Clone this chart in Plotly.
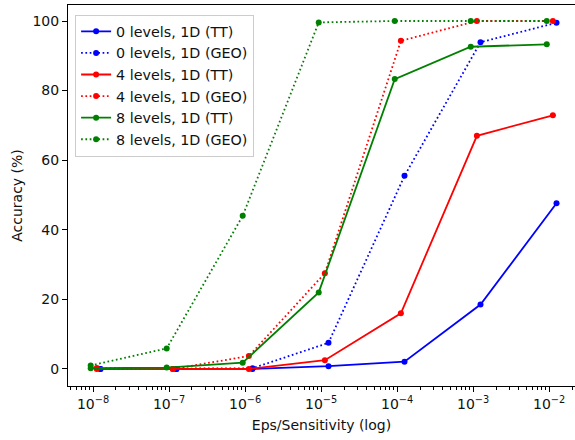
import plotly.graph_objects as go

# Privacy budget (epsilon / sensitivity) grid and per-configuration offsets
eps = [1e-8, 1e-7, 1e-6, 1e-5, 1e-4, 1e-3, 1e-2]
x_scale = {"0": 1.25, "4": 1.12, "8": 0.93}

# Accuracy (%) for each configuration
acc_0_tt = [0.0, 0.0, 0.0, 0.8, 2.1, 18.5, 47.6]
acc_0_geo = [0.0, 0.0, 0.2, 7.5, 55.5, 93.9, 99.5]
acc_4_tt = [0.0, 0.0, 0.0, 2.5, 16.0, 67.0, 72.9]
acc_4_geo = [0.3, 0.0, 3.7, 27.5, 94.3, 100.0, 100.0]
acc_8_tt = [0.2, 0.4, 1.8, 22.0, 83.3, 92.6, 93.3]
acc_8_geo = [1.0, 5.9, 44.0, 99.6, 100.0, 100.0, 100.0]

tick_vals = [1e-8, 1e-7, 1e-6, 1e-5, 1e-4, 1e-3, 1e-2]
tick_text = ["10<sup>\u22128</sup>", "10<sup>\u22127</sup>", "10<sup>\u22126</sup>",
             "10<sup>\u22125</sup>", "10<sup>\u22124</sup>", "10<sup>\u22123</sup>",
             "10<sup>\u22122</sup>"]
minor_vals = [m * 10.0 ** e for e in range(-9, -1) for m in range(2, 10)]

DOTTED = "1.7px,2.6px"
series = [
    ("0 levels, 1D (TT)", "0", acc_0_tt, "#0000ff", "solid"),
    ("0 levels, 1D (GEO)", "0", acc_0_geo, "#0000ff", DOTTED),
    ("4 levels, 1D (TT)", "4", acc_4_tt, "#ff0000", "solid"),
    ("4 levels, 1D (GEO)", "4", acc_4_geo, "#ff0000", DOTTED),
    ("8 levels, 1D (TT)", "8", acc_8_tt, "#008000", "solid"),
    ("8 levels, 1D (GEO)", "8", acc_8_geo, "#008000", DOTTED),
]

fig = go.Figure()
for name, lvl, ys, color, dash in series:
    xs = [e * x_scale[lvl] for e in eps]
    fig.add_trace(go.Scatter(
        x=xs, y=ys, name=name, mode="lines+markers",
        line=dict(color=color, width=1.8, dash=dash),
        marker=dict(color=color, size=6),
    ))

font = "DejaVu Sans, sans-serif"
fig.update_layout(
    width=575, height=440,
    margin=dict(l=68, r=0, t=5, b=54),
    plot_bgcolor="white", paper_bgcolor="white",
    font=dict(family=font, size=14, color="#111"),
    showlegend=True,
    legend=dict(
        x=0.014, y=0.975, xanchor="left", yanchor="top",
        bgcolor="rgba(255,255,255,0.8)", bordercolor="#cccccc", borderwidth=1,
        font=dict(family=font, size=14.3, color="#111"),
        itemwidth=30,
    ),
)
fig.update_xaxes(
    type="log", range=[-8.33, -1.66],
    tickmode="array", tickvals=tick_vals, ticktext=tick_text,
    ticks="outside", ticklen=5, tickcolor="black", tickwidth=1,
    minor=dict(tickmode="array", tickvals=minor_vals, ticks="outside",
               ticklen=3, tickcolor="black", tickwidth=0.8, showgrid=False),
    showgrid=False, zeroline=False,
    showline=True, linecolor="black", linewidth=1, mirror=True,
    title=dict(text="Eps/Sensitivity (log)", font=dict(size=14), standoff=9),
    tickfont=dict(size=14),
)
fig.update_yaxes(
    range=[-4.9, 104.6],
    tickvals=[0, 20, 40, 60, 80, 100],
    ticks="outside", ticklen=5, tickcolor="black", tickwidth=1,
    showgrid=False, zeroline=False,
    showline=True, linecolor="black", linewidth=1,
    title=dict(text="Accuracy (%)", font=dict(size=14), standoff=6),
    tickfont=dict(size=14),
)

fig.write_html("out.html")
